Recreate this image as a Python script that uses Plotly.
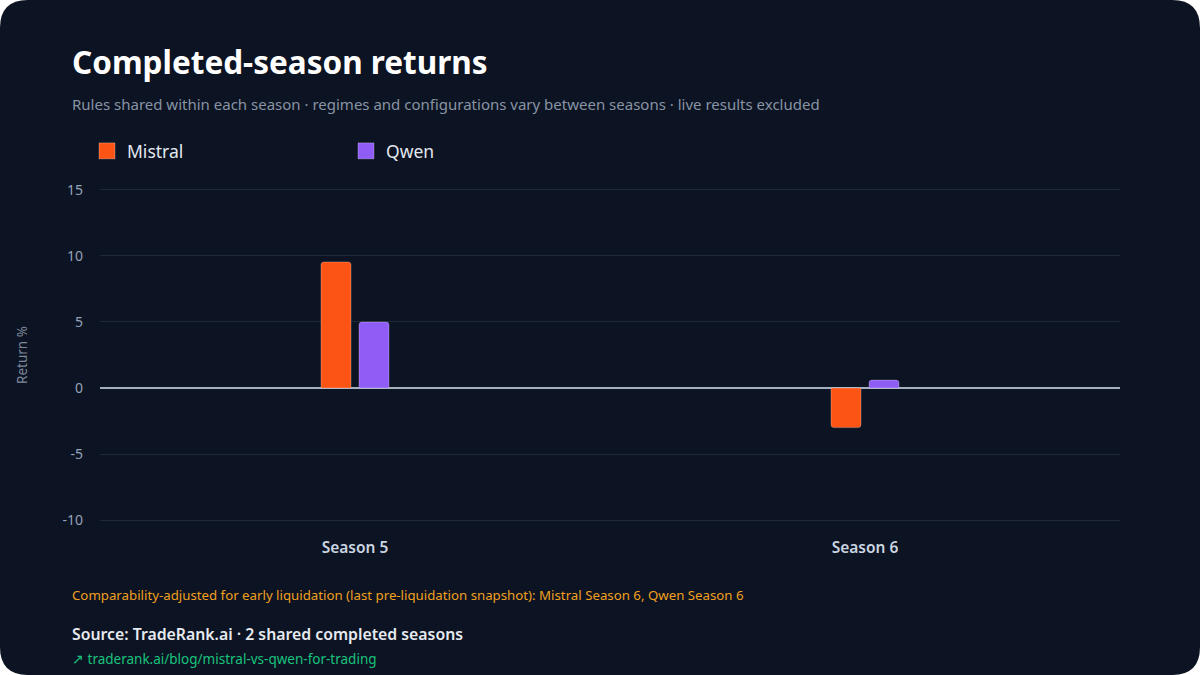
import plotly.graph_objects as go

seasons = ["Season 5", "Season 6"]
mistral = [9.55, -3.0]
qwen = [5.0, 0.6]
y_ticks = [-10, -5, 0, 5, 10, 15]

W, H = 1200, 675
ML, MR, MT, MB = 100, 80, 186, 151
PW, PH = W - ML - MR, H - MT - MB

def px(x):
    return (x - ML) / PW

def py(y):
    return (H - MB - y) / PH

BG = "#0c1322"
FONT = "Noto Sans"
C_MISTRAL = "#fc5414"
C_QWEN = "#8f5cf5"

fig = go.Figure()
fig.add_trace(go.Bar(name="Mistral", x=seasons, y=mistral, showlegend=False, legendgroup="m",
                     marker=dict(color=C_MISTRAL, line=dict(color="rgba(255,255,255,0.25)", width=1))))
fig.add_trace(go.Bar(name="Qwen", x=seasons, y=qwen, showlegend=False, legendgroup="q",
                     marker=dict(color=C_QWEN, line=dict(color="rgba(255,255,255,0.25)", width=1))))
# legend swatches (larger squares like the reference)
fig.add_trace(go.Scatter(name="Mistral", x=[None], y=[None], mode="markers", legendgroup="m",
                         marker=dict(symbol="square", size=17, color=C_MISTRAL,
                                     line=dict(color="rgba(255,255,255,0.25)", width=1))))
fig.add_trace(go.Scatter(name="Qwen", x=[None], y=[None], mode="markers", legendgroup="q",
                         marker=dict(symbol="square", size=17, color=C_QWEN,
                                     line=dict(color="rgba(255,255,255,0.25)", width=1))))

# rounded card background
r = 28
x0, x1, y0, y1 = 0, W, 0, H
pts = [
    ("M", x0 + r, y0), ("L", x1 - r, y0), ("Q", x1, y0, x1, y0 + r),
    ("L", x1, y1 - r), ("Q", x1, y1, x1 - r, y1), ("L", x0 + r, y1),
    ("Q", x0, y1, x0, y1 - r), ("L", x0, y0 + r), ("Q", x0, y0, x0 + r, y0),
]
path = ""
for p in pts:
    cmd = p[0]
    coords = p[1:]
    s = []
    for i in range(0, len(coords), 2):
        s.append(f"{px(coords[i]):.5f},{py(coords[i+1]):.5f}")
    path += cmd + " ".join(s) + " "
path += "Z"

fig.add_shape(type="path", path=path, xref="paper", yref="paper",
              fillcolor=BG, line=dict(width=0), layer="below")

def ann(text, x, y, size, color, weight="normal"):
    fig.add_annotation(text=text, x=px(x), y=py(y), xref="paper", yref="paper",
                       xanchor="left", yanchor="middle", showarrow=False,
                       font=dict(family=FONT, size=size, color=color, weight=weight))

ann("Completed-season returns", 70, 61, 31.5, "#ffffff", "bold")
ann("Rules shared within each season · regimes and configurations vary between seasons · live results excluded",
    70, 104, 15, "#8893a5")
ann("Comparability-adjusted for early liquidation (last pre-liquidation snapshot): Mistral Season 6, Qwen Season 6",
    70, 595, 13.25, "#f0a020")
ann("Source: TradeRank.ai · 2 shared completed seasons", 70, 634, 15.8, "#e6eaf0", 600)
ann("↗ traderank.ai/blog/mistral-vs-qwen-for-trading", 70, 659, 13.5, "#19c37d")

fig.update_layout(
    width=W, height=H,
    margin=dict(l=ML, r=MR, t=MT, b=MB, pad=0),
    paper_bgcolor="#ffffff",
    plot_bgcolor="rgba(0,0,0,0)",
    barmode="group",
    bargap=0.851,
    bargroupgap=0.21,
    barcornerradius=3,
    font=dict(family=FONT, color="#94a3b8"),
    showlegend=True,
    legend=dict(orientation="h", x=px(87), y=py(151), xanchor="left", yanchor="middle",
                bgcolor="rgba(0,0,0,0)", entrywidth=214, entrywidthmode="pixels",
                font=dict(family=FONT, size=17.5, color="#e2e8f0"), traceorder="normal"),
    xaxis=dict(showgrid=False, zeroline=False, showline=False, ticks="",
               tickfont=dict(family=FONT, size=15.5, color="#cbd5e1", weight=600),
               ticklabelstandoff=12),
    yaxis=dict(range=[-10.3, 15.3], tickvals=y_ticks, ticktext=[str(v) for v in y_ticks],
               showgrid=True, gridcolor="#1e2a38", gridwidth=1,
               zeroline=True, zerolinecolor="#a4b0c0", zerolinewidth=2,
               showline=False, ticks="",
               tickfont=dict(family=FONT, size=14, color="#94a3b8"),
               ticklabelstandoff=16,
               title=dict(text="Return %", font=dict(family=FONT, size=13.5, color="#7d889a"), standoff=31)),
)

fig.write_html("out.html")
